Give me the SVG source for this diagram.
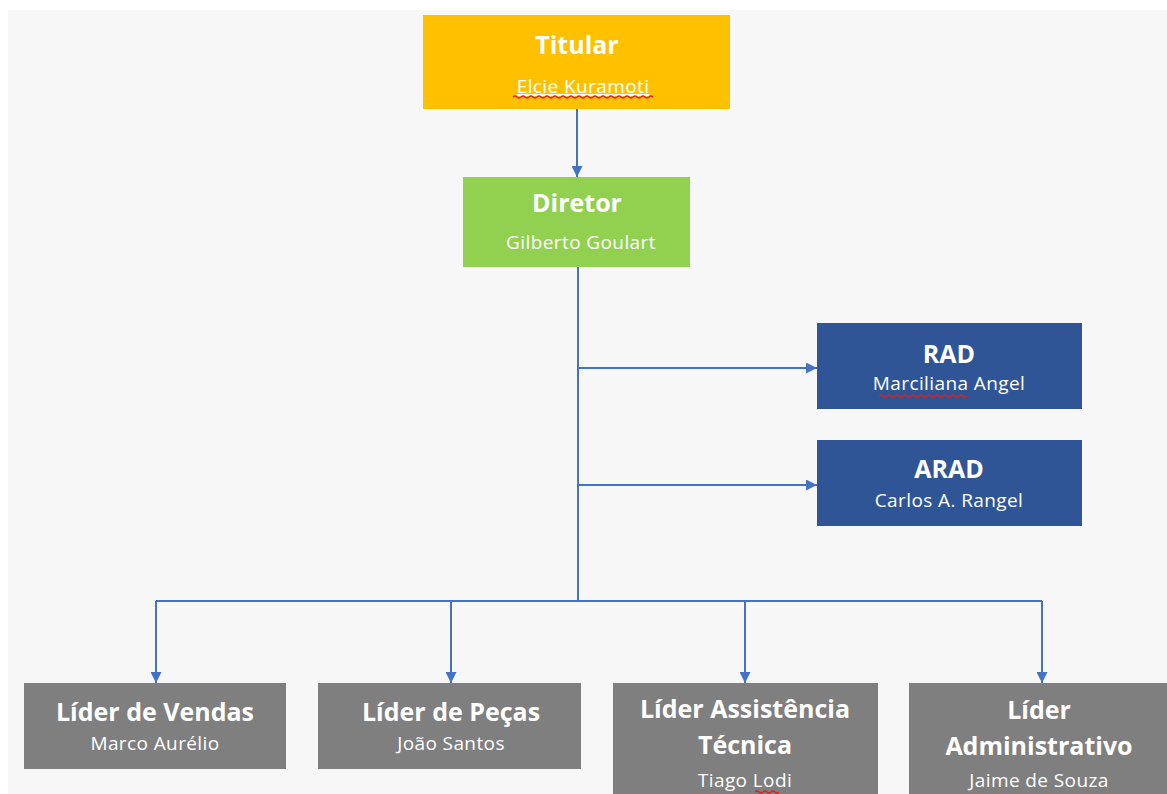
<svg xmlns="http://www.w3.org/2000/svg" width="1167" height="794" viewBox="0 0 1167 794">
<defs>
<style>
.t{font-family:"Open Sans","Noto Sans","Liberation Sans",sans-serif;font-weight:700;font-size:25px;fill:#fff;text-anchor:middle}
.s{font-family:"Open Sans","Noto Sans","Liberation Sans",sans-serif;font-size:19px;letter-spacing:0.4px;fill:#fff;text-anchor:middle}
.c{fill:none;stroke:#4472C4;stroke-width:2}
.sq{fill:none;stroke:#e02020;stroke-width:1.2}
</style>
<marker id="ah" viewBox="0 0 10 10" refX="10" refY="5" markerWidth="11" markerHeight="11" orient="auto" markerUnits="userSpaceOnUse">
<path d="M0,0L10,5L0,10z" fill="#4472C4"/>
</marker>
</defs>
<rect x="0" y="0" width="1167" height="794" fill="#fff"/>
<rect x="8" y="10" width="1159" height="784" fill="#f7f7f7"/>
<g id="connectors">
<path class="c" d="M577,109V177" marker-end="url(#ah)"/>
<path class="c" d="M578,267V601"/>
<path class="c" d="M578,368H817" marker-end="url(#ah)"/>
<path class="c" d="M578,485H817" marker-end="url(#ah)"/>
<path class="c" d="M156,601H1042"/>
<path class="c" d="M156,601V683" marker-end="url(#ah)"/>
<path class="c" d="M451,601V683" marker-end="url(#ah)"/>
<path class="c" d="M745,601V683" marker-end="url(#ah)"/>
<path class="c" d="M1042,601V683" marker-end="url(#ah)"/>
</g>
<g id="titular">
<rect x="423" y="15" width="307" height="94" fill="#FFC000"/>
<text class="t" x="577" y="54">Titular</text>
<text class="s" x="583" y="93" text-decoration="underline">Elcie Kuramoti</text>
<path class="sq" d="M513,97q2,-2 4,0t4,0t4,0t4,0t4,0t4,0t4,0t4,0t4,0t4,0t4,0t4,0t4,0t4,0t4,0t4,0t4,0t4,0t4,0t4,0t4,0t4,0t4,0t4,0t4,0t4,0t4,0t4,0t4,0t4,0t4,0t4,0t4,0t4,0t4,0"/>
</g>
<g id="diretor">
<rect x="463" y="177" width="227" height="90" fill="#92D050"/>
<text class="t" x="577" y="212">Diretor</text>
<text class="s" x="581" y="249">Gilberto Goulart</text>
</g>
<g id="rad">
<rect x="817" y="323" width="265" height="86" fill="#2F5597"/>
<text class="t" x="949" y="363">RAD</text>
<text class="s" x="949" y="390">Marciliana Angel</text>
<path class="sq" d="M879,396q2,-2 4,0t4,0t4,0t4,0t4,0t4,0t4,0t4,0t4,0t4,0t4,0t4,0t4,0t4,0t4,0t4,0t4,0t4,0t4,0t4,0t4,0t4,0"/>
</g>
<g id="arad">
<rect x="817" y="440" width="265" height="86" fill="#2F5597"/>
<text class="t" x="949" y="478">ARAD</text>
<text class="s" x="949" y="507">Carlos A. Rangel</text>
</g>
<g id="vendas">
<rect x="24" y="683" width="262" height="86" fill="#7F7F7F"/>
<text class="t" x="155" y="721">Líder de Vendas</text>
<text class="s" x="155" y="750">Marco Aurélio</text>
</g>
<g id="pecas">
<rect x="318" y="683" width="263" height="86" fill="#7F7F7F"/>
<text class="t" x="451" y="721">Líder de Peças</text>
<text class="s" x="451" y="750">João Santos</text>
</g>
<g id="assistencia">
<rect x="613" y="683" width="265" height="111" fill="#7F7F7F"/>
<text class="t" x="745" y="718">Líder Assistência</text>
<text class="t" x="745" y="754">Técnica</text>
<text class="s" x="745" y="787">Tiago Lodi</text>
<path class="sq" d="M755,792q2,-2 4,0t4,0t4,0t4,0t4,0t4,0"/>
</g>
<g id="administrativo">
<rect x="909" y="683" width="258" height="111" fill="#7F7F7F"/>
<text class="t" x="1039" y="719">Líder</text>
<text class="t" x="1039" y="755">Administrativo</text>
<text class="s" x="1039" y="787">Jaime de Souza</text>
</g>
</svg>
